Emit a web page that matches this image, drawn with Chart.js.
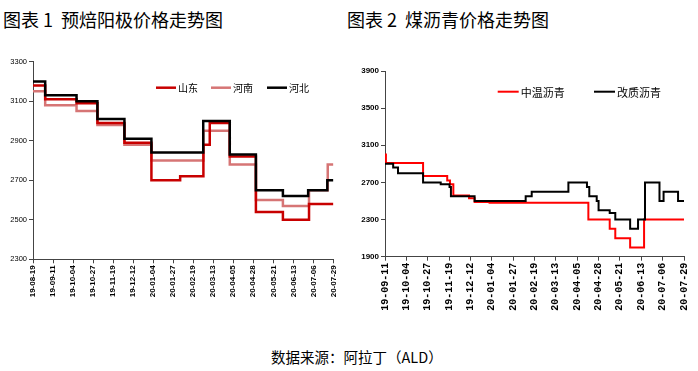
<!DOCTYPE html>
<html>
<head>
<meta charset="utf-8">
<script src="https://cdn.jsdelivr.net/npm/chart.js@4"></script>
<style>
body { margin:0; width:698px; height:371px; background:#fff; position:relative; overflow:hidden; font-family:"Noto Sans CJK SC", sans-serif; }
.t { position:absolute; white-space:pre; color:#000; }
#c1 { position:absolute; left:0; top:50px; }
#c2 { position:absolute; left:345px; top:50px; }
</style>
</head>
<body>
<div class="t" style="left:3px;top:8px;font-size:18px;line-height:22px;">图表 1  预焙阳极价格走势图</div>
<div class="t" style="left:347px;top:8px;font-size:18px;line-height:22px;">图表 2  煤沥青价格走势图</div>
<canvas id="c1" width="345" height="260"></canvas>
<canvas id="c2" width="353" height="270"></canvas>
<div class="t" style="left:271px;top:347px;font-size:14.5px;line-height:20px;">数据来源：阿拉丁（ALD）</div>
<script>
// tick labels (yy-mm-dd)
const leftTicks = ['19-08-19','19-09-11','19-10-04','19-10-27','19-11-19','19-12-12','20-01-04','20-01-27','20-02-19','20-03-13','20-04-05','20-04-28','20-05-21','20-06-13','20-07-06','20-07-29'];
const rightTicks = ['19-09-11','19-10-04','19-10-27','19-11-19','19-12-12','20-01-04','20-01-27','20-02-19','20-03-13','20-04-05','20-04-28','20-05-21','20-06-13','20-07-06','20-07-29'];

// chart 1: prebaked anode, price change points (day since 19-08-19, yuan/t)
const sdDays = [0, 14, 50, 74, 105, 136, 169, 195.7, 203, 226, 256, 287, 317, 345];
const sdVals = [3180, 3110, 3090, 2990, 2890, 2700, 2720, 2880, 2990, 2820, 2540, 2500, 2580, 2580];
const hnDays = [0, 14, 50, 74, 105, 136, 195.7, 226, 256, 287, 317, 338.5, 345];
const hnVals = [3150, 3080, 3050, 2980, 2880, 2800, 2950, 2780, 2600, 2570, 2650, 2780, 2780];
const hbDays = [0, 14, 50, 74, 105, 136, 195.5, 226, 256, 287, 316, 338, 345];
const hbVals = [3200, 3130, 3100, 3010, 2910, 2840, 3000, 2830, 2650, 2620, 2650, 2700, 2700];

// chart 2: coal tar pitch
const zwDays = [23, 24, 64, 90, 93, 96.6, 113.5, 119.5, 135.6, 242, 265, 271, 287, 302, 345];
const zwVals = [3000, 2910, 2770, 2720, 2680, 2560, 2530, 2490, 2480, 2300, 2200, 2100, 2000, 2300, 2300];
const gzDays = [23, 31.8, 37, 64, 83, 92.5, 94, 119.5, 174.5, 181, 220.5, 240.5, 243, 251, 253, 265, 271, 287, 295.5, 301, 303, 318.6, 323, 338.6, 345];
const gzVals = [2900, 2860, 2800, 2700, 2680, 2650, 2550, 2500, 2550, 2600, 2700, 2650, 2550, 2500, 2400, 2370, 2300, 2200, 2300, 2300, 2700, 2500, 2600, 2500, 2500];

function dayOf(label) {
  const p = label.split('-').map(Number);
  return (Date.UTC(2000 + p[0], p[1] - 1, p[2]) - Date.UTC(2019, 7, 19)) / 86400000;
}
function pts(days, vals) {
  return days.map((d, i) => ({ x: d, y: vals[i] }));
}

const inLegend = {
  id: 'inLegend',
  afterDraw(chart, args, opts) {
    const ctx = chart.ctx;
    ctx.save();
    ctx.font = opts.font;
    ctx.textBaseline = 'middle';
    ctx.fillStyle = '#000';
    chart.data.datasets.forEach((ds, i) => {
      const x = opts.xs[i];
      ctx.strokeStyle = ds.borderColor;
      ctx.lineWidth = ds.borderWidth;
      ctx.beginPath();
      ctx.moveTo(x, opts.y);
      ctx.lineTo(x + opts.len, opts.y);
      ctx.stroke();
      ctx.fillText(ds.label, x + opts.len + 2, opts.y + 1);
    });
    ctx.restore();
  }
};

function makeChart(id, datasets, ticks, yMin, yMax, yStep, geo) {
  const ctx = document.getElementById(id).getContext('2d');
  return new Chart(ctx, {
    type: 'line',
    data: { datasets: datasets },
    plugins: [inLegend],
    options: {
      responsive: false,
      animation: false,
      devicePixelRatio: 1,
      layout: { padding: { top: geo.top, right: geo.right, left: 0, bottom: 0 } },
      elements: { point: { radius: 0 } },
      plugins: {
        legend: { display: false },
        tooltip: { enabled: false },
        inLegend: geo.legend
      },
      scales: {
        x: {
          type: 'linear',
          min: dayOf(ticks[0]),
          max: dayOf(ticks[ticks.length - 1]),
          afterBuildTicks: s => { s.ticks = ticks.map(l => ({ value: dayOf(l) })); },
          afterFit: s => { s.height = geo.xh; },
          ticks: {
            autoSkip: false, minRotation: 90, maxRotation: 90, padding: 2,
            color: '#000', font: geo.xFont,
            callback: (v, i) => ticks[i]
          },
          grid: { drawOnChartArea: false, drawTicks: true, tickLength: 4, color: '#444' },
          border: { color: '#444', width: 1 }
        },
        y: {
          min: yMin, max: yMax,
          afterFit: s => { s.width = geo.yw; },
          ticks: { stepSize: yStep, padding: 2, color: '#000', font: geo.yFont, callback: v => String(v) },
          grid: { drawOnChartArea: false, drawTicks: true, tickLength: 4, color: '#444' },
          border: { color: '#444', width: 1 }
        }
      }
    }
  });
}

makeChart('c1', [
  { label: '山东', data: pts(sdDays, sdVals), borderColor: '#C80000', borderWidth: 2.5, stepped: true, order: 1 },
  { label: '河南', data: pts(hnDays, hnVals), borderColor: '#D67575', borderWidth: 2.5, stepped: true, order: 2 },
  { label: '河北', data: pts(hbDays, hbVals), borderColor: '#000000', borderWidth: 2.5, stepped: true, order: 0 }
], leftTicks, 2300, 3300, 200, {
  top: 11.7, right: 5, xh: 50.7, yw: 33,
  xFont: { family: 'Liberation Sans', size: 8, weight: 'bold' },
  yFont: { family: 'Liberation Sans', size: 7.5 },
  legend: { xs: [156, 211, 267], y: 37.7, len: 20, font: '10px "Noto Sans CJK SC"' }
});

makeChart('c2', [
  { label: '中温沥青', data: pts(zwDays, zwVals), borderColor: '#FF0000', borderWidth: 2, stepped: true, order: 1 },
  { label: '改质沥青', data: pts(gzDays, gzVals), borderColor: '#000000', borderWidth: 2, stepped: true, order: 0 }
], rightTicks, 1900, 3900, 400, {
  top: 21, right: 7, xh: 63.3, yw: 40,
  xFont: { family: 'Liberation Mono', size: 10, weight: 'bold' },
  yFont: { family: 'Liberation Sans', size: 8, weight: 'bold' },
  legend: { xs: [152.7, 249], y: 41.7, len: 21, font: '11px "Noto Sans CJK SC"' }
});
</script>
</body>
</html>
